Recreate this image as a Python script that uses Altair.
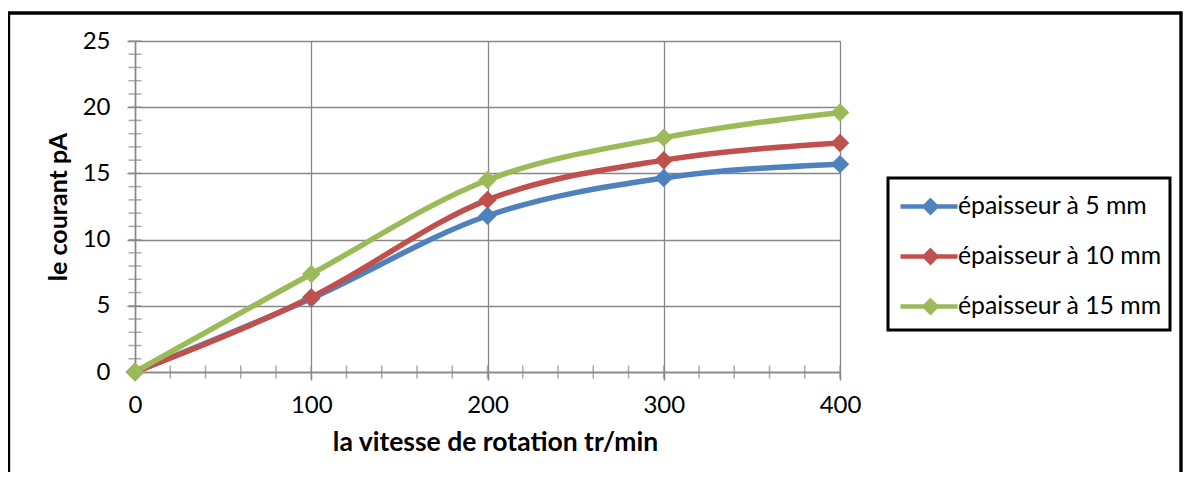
import altair as alt
import pandas as pd

# ---- data ----
speeds = [0, 100, 200, 300, 400]
series_names = ["épaisseur à 5 mm", "épaisseur à 10 mm", "épaisseur à 15 mm"]
current_5mm = [0, 5.55, 11.8, 14.65, 15.7]
current_10mm = [0, 5.65, 13.0, 16.0, 17.3]
current_15mm = [0, 7.4, 14.5, 17.7, 19.6]
series_colors = ["#4F81BD", "#C0504D", "#9BBB59"]
x_ticks = [0, 100, 200, 300, 400]
y_ticks = [0, 5, 10, 15, 20, 25]
x_minor = list(range(0, 401, 20))
y_minor = list(range(0, 26, 1))

rows = []
for name, vals in zip(series_names, [current_5mm, current_10mm, current_15mm]):
    for s, v in zip(speeds, vals):
        rows.append({"speed": s, "current": v, "series": name})
df = pd.DataFrame(rows)

GRID = "#878787"
FONT = "Lato"

x_scale = alt.Scale(domain=[0, 400], nice=False, zero=True)
y_scale = alt.Scale(domain=[0, 25], nice=False, zero=True)
color_scale = alt.Scale(domain=series_names, range=series_colors)

x_axis = alt.Axis(values=x_ticks, title="la vitesse de rotation tr/min", grid=True,
                  gridColor=GRID, gridWidth=1.3, domainColor=GRID, domainWidth=1.5,
                  tickColor=GRID, tickWidth=1.5, tickSize=8, labelFont=FONT,
                  labelFontSize=24, labelColor="black", labelPadding=13,
                  labelFlush=False, titleFont=FONT, titleFontSize=26.5,
                  titleFontWeight="bold", titleColor="black", titlePadding=12,
                  titleX=360)
y_axis = alt.Axis(values=y_ticks, title="le courant pA", grid=True,
                  gridColor=GRID, gridWidth=1.3, domainColor=GRID, domainWidth=1.5,
                  tickColor=GRID, tickWidth=1.5, tickSize=8, labelFont=FONT,
                  labelFontSize=24, labelColor="black", labelPadding=17,
                  labelFlush=False, titleFont=FONT, titleFontSize=25,
                  titleFontWeight="bold", titleColor="black", titlePadding=11)

legend_path = "M-1,0L2.17,0M0.667,-0.32L0.987,0L0.667,0.32L0.347,0Z"

base = alt.Chart(df)

lines = base.mark_line(interpolate="monotone", strokeWidth=5.5, strokeCap="round",
                       strokeJoin="round").encode(
    x=alt.X("speed:Q", scale=x_scale, axis=x_axis),
    y=alt.Y("current:Q", scale=y_scale, axis=y_axis),
    color=alt.Color("series:N", scale=color_scale,
                    legend=alt.Legend(title=None, orient="none", legendX=753,
                                      legendY=137, symbolType=legend_path,
                                      symbolSize=1296, symbolStrokeWidth=4.5,
                                      symbolOffset=2,
                                      labelFont=FONT, labelFontSize=24.8,
                                      labelColor="black", labelLimit=400,
                                      labelOffset=19, rowPadding=14,
                                      padding=8, strokeColor="black")),
)

points = base.mark_point(shape="diamond", filled=True, size=340, opacity=1).encode(
    x=alt.X("speed:Q", scale=x_scale),
    y=alt.Y("current:Q", scale=y_scale),
    color=alt.Color("series:N", scale=color_scale, legend=None),
)

y_minor_df = pd.DataFrame({"v": y_minor})
x_minor_df = pd.DataFrame({"v": x_minor})

y_minor_ticks = alt.Chart(y_minor_df).mark_tick(orient="horizontal", size=13,
                                                 thickness=1.5, color=GRID).encode(
    y=alt.Y("v:Q", scale=y_scale),
    x=alt.datum(0, scale=x_scale),
)
x_minor_ticks = alt.Chart(x_minor_df).mark_tick(orient="vertical", size=13,
                                                 thickness=1.5, color=GRID).encode(
    x=alt.X("v:Q", scale=x_scale),
    y=alt.datum(0, scale=y_scale),
)

frame = alt.Chart(pd.DataFrame({"a": [0]})).mark_rect(
    fillOpacity=0, stroke="black", strokeWidth=3.4).encode(
    x=alt.value(-126.5), x2=alt.value(1046), y=alt.value(-28), y2=alt.value(460))

chart = alt.layer(frame, y_minor_ticks, x_minor_ticks, lines, points).properties(
    width=705, height=331,
    autosize=alt.AutoSizeParams(type="none"),
    padding={"left": 127, "top": 33, "right": 344, "bottom": 100},
).configure_view(strokeWidth=0).configure_legend(strokeWidth=3)

chart.save("out.html", embed_options={"renderer": "svg", "actions": False})
